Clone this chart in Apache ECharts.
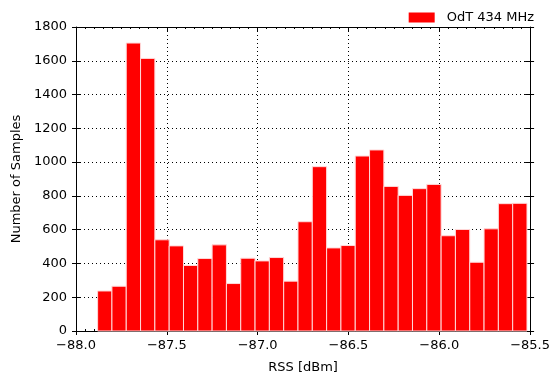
<!DOCTYPE html>
<html>
<head>
<meta charset="utf-8">
<script src="https://cdn.jsdelivr.net/npm/echarts@6/dist/echarts.min.js"></script>
<style>
html,body{margin:0;padding:0;background:#fff;}
#chart{width:553px;height:380px;}
</style>
</head>
<body>
<div id="chart"></div>
<script>
// Histogram of received signal strength
const seriesName = 'OdT 434 MHz';
const binStart = -87.881;   // left edge of first bin [dBm]
const binWidth = 0.0788;    // bin width [dBm]
const counts = [237, 265, 1705, 1614, 540, 504, 388, 429, 510, 281,
                431, 415, 435, 295, 647, 973, 492, 506, 1036, 1072,
                856, 803, 843, 868, 564, 601, 407, 605, 754, 756];
const xTicks = [-88.0, -87.5, -87.0, -86.5, -86.0, -85.5];
const yTicks = [0, 200, 400, 600, 800, 1000, 1200, 1400, 1600, 1800];

const bins = counts.map((c, i) => [binStart + i * binWidth, binStart + (i + 1) * binWidth, c]);

const font = 'DejaVu Sans';
const fs = 13;
const fmtX = v => (v < 0 ? '\u2212' : '') + Math.abs(v).toFixed(1);
const fmtY = v => String(Math.round(v));

const chart = echarts.init(document.getElementById('chart'), null, {renderer: 'canvas'});
const gridLine = {show: true, lineStyle: {color: '#000', type: [1, 3], width: 1}};
const baseX = {type: 'value', min: xTicks[0], max: xTicks[xTicks.length - 1], interval: 0.5};
const baseY = {type: 'value', min: yTicks[0], max: yTicks[yTicks.length - 1], interval: 200};

chart.setOption({
  animation: false,
  textStyle: {fontFamily: font},
  legend: {
    top: 6, right: 14,
    itemWidth: 26, itemHeight: 10, itemGap: 10,
    textStyle: {fontFamily: font, fontSize: fs, color: '#000', padding: [0, 0, 0, 7]},
    data: [{name: seriesName, icon: 'rect'}]
  },
  grid: {left: 76, right: 22, top: 27, bottom: 49, containLabel: false},
  xAxis: [
    Object.assign({}, baseX, {
      position: 'bottom',
      name: 'RSS [dBm]', nameLocation: 'middle', nameGap: 30,
      nameTextStyle: {fontFamily: font, fontSize: fs, color: '#000'},
      axisLine: {show: true, onZero: false, lineStyle: {color: '#000', width: 1}},
      axisTick: {show: true, inside: true, length: 5, lineStyle: {color: '#000'}},
      minorTick: {show: true, splitNumber: 10, length: 2, lineStyle: {color: '#000'}},
      axisLabel: {fontFamily: font, fontSize: fs, color: '#000', margin: 8, formatter: fmtX},
      splitLine: gridLine
    }),
    Object.assign({}, baseX, {
      position: 'bottom', offset: 0,
      axisLine: {show: false},
      axisTick: {show: true, inside: false, length: 4, lineStyle: {color: '#000'}},
      axisLabel: {show: false}, splitLine: {show: false}
    }),
    Object.assign({}, baseX, {
      position: 'top',
      axisLine: {show: true, onZero: false, lineStyle: {color: '#000', width: 1}},
      axisTick: {show: true, inside: true, length: 5, lineStyle: {color: '#000'}},
      minorTick: {show: true, splitNumber: 10, length: 2, lineStyle: {color: '#000'}},
      axisLabel: {show: false}, splitLine: {show: false}
    })
  ],
  yAxis: [
    Object.assign({}, baseY, {
      position: 'left',
      name: 'Number of Samples', nameLocation: 'middle', nameGap: 52,
      nameTextStyle: {fontFamily: font, fontSize: fs, color: '#000'},
      axisLine: {show: true, onZero: false, lineStyle: {color: '#000', width: 1}},
      axisTick: {show: true, inside: true, length: 5, lineStyle: {color: '#000'}},
      axisLabel: {fontFamily: font, fontSize: fs, color: '#000', margin: 9, formatter: fmtY},
      splitLine: gridLine
    }),
    Object.assign({}, baseY, {
      position: 'left', offset: 0,
      axisLine: {show: false},
      axisTick: {show: true, inside: false, length: 4, lineStyle: {color: '#000'}},
      axisLabel: {show: false}, splitLine: {show: false}
    }),
    Object.assign({}, baseY, {
      position: 'right',
      axisLine: {show: true, onZero: false, lineStyle: {color: '#000', width: 1}},
      axisTick: {show: true, inside: true, length: 5, lineStyle: {color: '#000'}},
      axisLabel: {show: false}, splitLine: {show: false}
    }),
    Object.assign({}, baseY, {
      position: 'right', offset: 0,
      axisLine: {show: false},
      axisTick: {show: true, inside: false, length: 4, lineStyle: {color: '#000'}},
      axisLabel: {show: false}, splitLine: {show: false}
    })
  ],
  series: [{
    name: seriesName,
    type: 'custom',
    xAxisIndex: 0, yAxisIndex: 0,
    itemStyle: {color: '#ff0000'},
    encode: {x: [0, 1], y: 2},
    data: bins,
    renderItem: function (params, api) {
      const p0 = api.coord([api.value(0), api.value(2)]);
      const p1 = api.coord([api.value(1), 0]);
      return {
        type: 'rect',
        shape: {x: p0[0], y: p0[1], width: p1[0] - p0[0], height: p1[1] - p0[1]},
        style: {fill: '#ff0000', stroke: '#ffd9d9', lineWidth: 1}
      };
    },
    z: 1
  }]
});
</script>
</body>
</html>
